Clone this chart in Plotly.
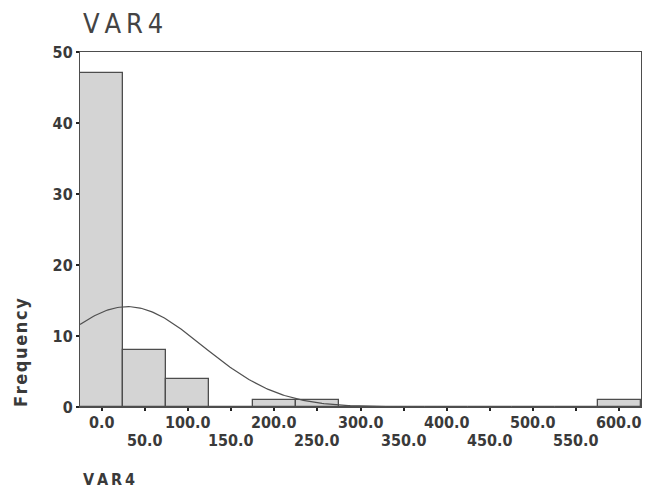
import numpy as np
import plotly.graph_objects as go

# Histogram bins (bin centre) and their frequencies
bin_centers = [0, 50, 100, 150, 200, 250, 300, 350, 400, 450, 500, 550, 600]
frequencies = [47, 8, 4, 0, 1, 1, 0, 0, 0, 0, 0, 0, 1]
bin_width = 50

x_tick_values = [0, 50, 100, 150, 200, 250, 300, 350, 400, 450, 500, 550, 600]
x_tick_labels = ["0.0", "50.0", "100.0", "150.0", "200.0", "250.0", "300.0",
                 "350.0", "400.0", "450.0", "500.0", "550.0", "600.0"]
y_tick_values = [0, 10, 20, 30, 40, 50]

FONT = "DejaVu Sans Condensed"
TEXT = "#3a3a3a"
EDGE = "#4d4d4d"
THIN = "\u2009"
HAIR = "\u200a"


def spaced(s, sep):
    return sep.join(s)


# Normal curve fitted from the binned data
c = np.array(bin_centers, dtype=float)
f = np.array(frequencies, dtype=float)
n = f.sum()
mean = (c * f).sum() / n
sd = np.sqrt(((c - mean) ** 2 * f).sum() / (n - 1))
xs = np.linspace(-25, 625, 300)
ys = n * bin_width / (sd * np.sqrt(2 * np.pi)) * np.exp(-0.5 * ((xs - mean) / sd) ** 2)

fig = go.Figure()
fig.add_trace(go.Bar(
    x=bin_centers, y=frequencies, width=bin_width,
    marker=dict(color="#d4d4d4", line=dict(color=EDGE, width=1.3)),
    hoverinfo="x+y",
))
fig.add_trace(go.Scatter(
    x=xs, y=ys, mode="lines",
    line=dict(color="#505050", width=1.2), hoverinfo="skip",
))

# Staggered x tick labels: even positions on the upper row, odd ones below
annotations = []
for i, (v, lab) in enumerate(zip(x_tick_values, x_tick_labels)):
    annotations.append(dict(
        x=v, y=-0.011 if i % 2 == 0 else -0.062, xref="x", yref="paper",
        text=lab, showarrow=False, xanchor="center", yanchor="top",
        font=dict(family=FONT, size=16, color=TEXT, weight="bold"),
    ))

annotations += [
    dict(x=81, y=6, xref="pixel", yref="pixel", text=spaced("VAR4", THIN),
         showarrow=False, xanchor="left", yanchor="top",
         font=dict(family=FONT, size=27, color="#444444")),
    dict(x=20, y=353, xref="pixel", yref="pixel", text=spaced("Frequency", HAIR),
         textangle=-90, showarrow=False, xanchor="center", yanchor="middle",
         font=dict(family=FONT, size=18, color=TEXT, weight="bold")),
    dict(x=81, y=468, xref="pixel", yref="pixel", text=spaced("VAR4", THIN),
         showarrow=False, xanchor="left", yanchor="top",
         font=dict(family=FONT, size=16, color=TEXT, weight="bold")),
]

# convert pixel-positioned annotations to paper coordinates
W, H = 649, 490
ML, MR, MT, MB = 80, 8, 52, 83
pw, ph = W - ML - MR, H - MT - MB
for a in annotations:
    if a["xref"] == "pixel":
        a["x"] = (a["x"] - ML) / pw
        a["y"] = (H - MB - a["y"]) / ph
        a["xref"] = "paper"
        a["yref"] = "paper"

fig.update_layout(
    width=W, height=H,
    margin=dict(l=ML, r=MR, t=MT, b=MB),
    paper_bgcolor="white", plot_bgcolor="white",
    showlegend=False, bargap=0,
    annotations=annotations,
    xaxis=dict(range=[-25, 625], tickvals=x_tick_values, showticklabels=False,
               ticks="outside", ticklen=3, tickwidth=2, tickcolor="#222",
               showgrid=False, zeroline=False, showline=True, linecolor=EDGE,
               linewidth=1.3, mirror=True),
    yaxis=dict(range=[0, 50], tickvals=y_tick_values, ticks="outside", ticklen=3,
               tickwidth=2, tickcolor="#222", showgrid=False, zeroline=False,
               showline=True, linecolor=EDGE, linewidth=1.3, mirror=True,
               tickfont=dict(family=FONT, size=16, color=TEXT, weight="bold")),
)

fig.write_html("out.html")
